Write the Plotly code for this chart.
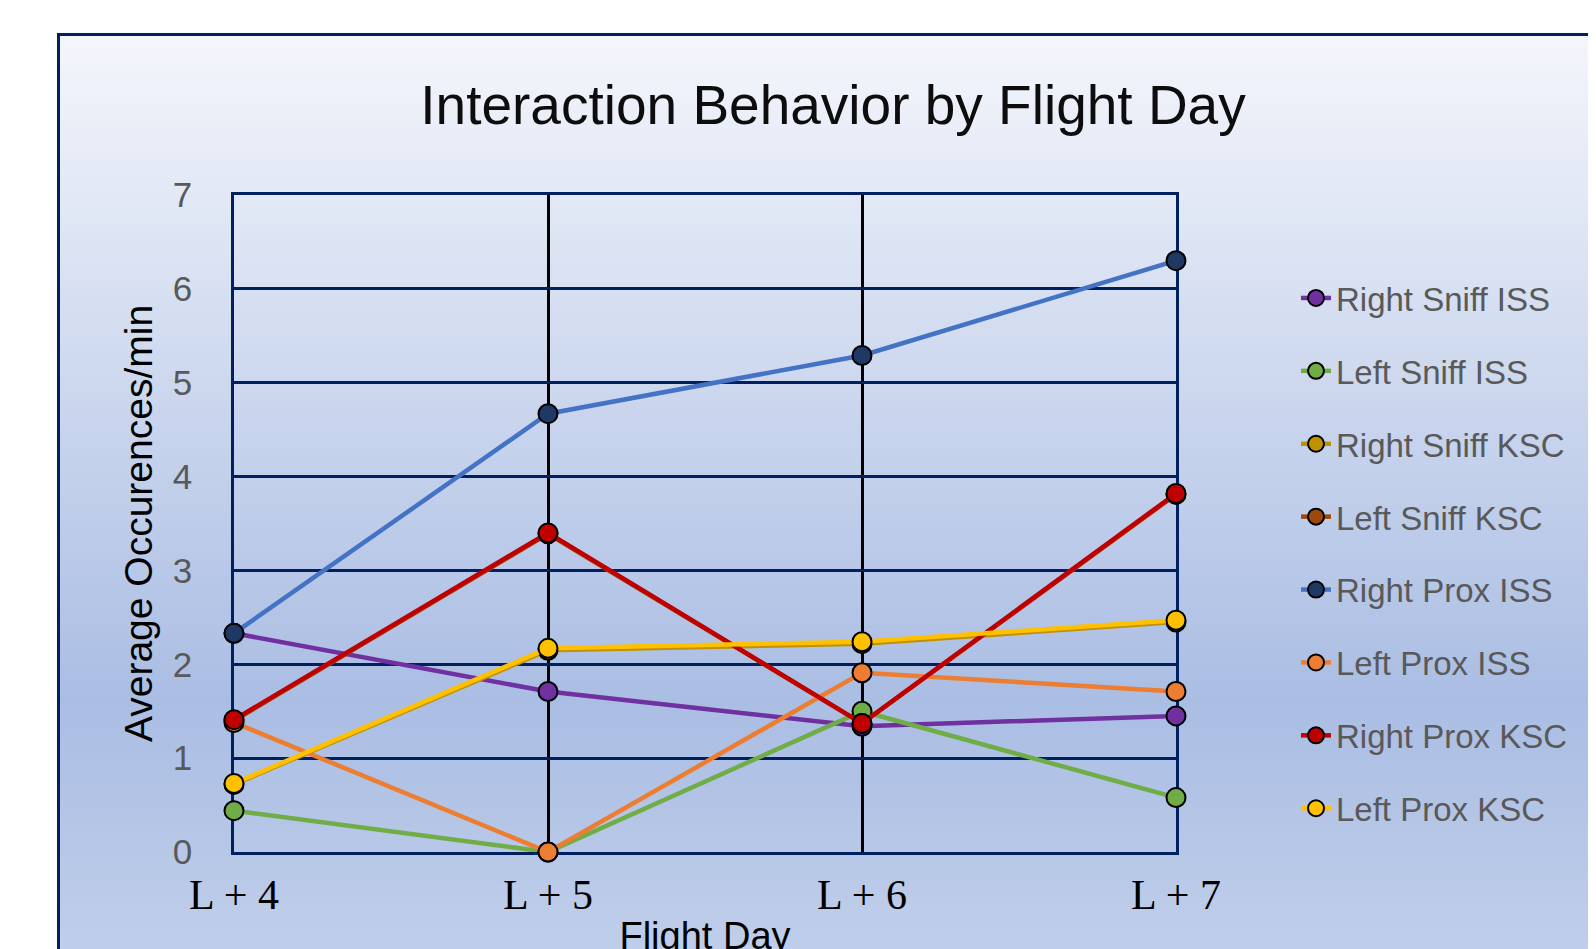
import plotly.graph_objects as go

# ---------------- data ----------------
categories = ["L + 4", "L + 5", "L + 6", "L + 7"]

right_sniff_iss = [2.33, 1.71, 1.34, 1.45]
left_sniff_iss = [0.44, 0.00, 1.50, 0.58]
right_sniff_ksc = [0.72, 2.15, 2.22, 2.45]
left_sniff_ksc = [1.40, 3.39, 1.37, 3.81]
right_prox_iss = [2.33, 4.67, 5.29, 6.30]
left_prox_iss = [1.38, 0.00, 1.91, 1.71]
right_prox_ksc = [1.41, 3.40, 1.37, 3.82]
left_prox_ksc = [0.73, 2.17, 2.24, 2.47]

series_names = ["Right Sniff ISS", "Left Sniff ISS", "Right Sniff KSC", "Left Sniff KSC",
                "Right Prox ISS", "Left Prox ISS", "Right Prox KSC", "Left Prox KSC"]
series_values = [right_sniff_iss, left_sniff_iss, right_sniff_ksc, left_sniff_ksc,
                 right_prox_iss, left_prox_iss, right_prox_ksc, left_prox_ksc]

y_ticks = [0, 1, 2, 3, 4, 5, 6, 7]

# ---------------- styles ----------------
line_colors = ["#7030A0", "#70AD47", "#BF9000", "#9E480E",
               "#4472C4", "#ED7D31", "#C00000", "#FFC000"]
marker_colors = ["#7030A0", "#70AD47", "#BF9000", "#9E480E",
                 "#1F3864", "#ED7D31", "#C00000", "#FFC000"]

W, H = 1596, 949
OFF = 8                            # page body margin in the browser
L, R, T, B = 234, 1176, 195, 852   # plot area in screen pixels
PW, PH = R - L, B - T

def px_x(p):
    return (p - L) / PW

def px_y(p):
    return (B - p) / PH

SANS = "Liberation Sans, Arial, sans-serif"
SERIF = "Liberation Serif, Times New Roman, serif"
NAVY = "#002060"

fig = go.Figure()
for i, (name, vals) in enumerate(zip(series_names, series_values)):
    fig.add_trace(go.Scatter(
        x=categories, y=vals, name=name, mode="lines+markers",
        legendgroup=name,
        line=dict(color=line_colors[i], width=4.5),
        marker=dict(size=19, color=marker_colors[i], line=dict(color="#000000", width=2)),
        cliponaxis=False,
    ))

# ---------------- background gradient ----------------
stops = [(34, (244, 246, 251)), (700, (170, 189, 227)), (960, (192, 207, 234))]

def grad_color(py):
    for (y0, c0), (y1, c1) in zip(stops[:-1], stops[1:]):
        if y0 <= py <= y1:
            t = (py - y0) / (y1 - y0)
            return "rgb(%d,%d,%d)" % tuple(round(a + (b - a) * t) for a, b in zip(c0, c1))
    return "rgb(%d,%d,%d)" % stops[-1][1]

shapes = []
step = 8
py = 34
while py < 960:
    py2 = min(py + step, 960)
    shapes.append(dict(type="rect", xref="paper", yref="paper",
                       x0=px_x(58), x1=px_x(1610), y0=px_y(py2 + 0.5), y1=px_y(py),
                       fillcolor=grad_color((py + py2) / 2), line=dict(width=0),
                       layer="below"))
    py = py2
# outer chart border
shapes.append(dict(type="rect", xref="paper", yref="paper",
                   x0=px_x(58.5), x1=px_x(1620), y0=px_y(980), y1=px_y(34.5),
                   line=dict(color=NAVY, width=3), fillcolor="rgba(0,0,0,0)",
                   layer="below"))

fig.update_layout(
    width=W, height=H,
    margin=dict(l=L - OFF, r=W - (R - OFF), t=T - OFF, b=H - (B - OFF), pad=0,
                autoexpand=False),
    paper_bgcolor="#ffffff",
    plot_bgcolor="rgba(0,0,0,0)",
    shapes=shapes,
    title=dict(text="Interaction Behavior by Flight Day",
               x=825 / W, xanchor="center", xref="container",
               y=1 - 97 / H, yanchor="middle", yref="container",
               font=dict(family=SANS, size=55, color="#0d0d0d")),
    xaxis=dict(
        type="category", range=[0, 3], automargin=False,
        showgrid=True, gridcolor="#000000", gridwidth=2.5,
        showline=True, linecolor=NAVY, linewidth=2.5, mirror=True,
        ticks="outside", ticklen=4, tickcolor="rgba(0,0,0,0)",
        tickfont=dict(family=SERIF, size=42, color="#000000"),
        title=dict(text="Flight Day", standoff=8,
                   font=dict(family=SANS, size=38, color="#000000")),
        layer="below traces", zeroline=False,
    ),
    yaxis=dict(
        range=[0, 7], tickvals=y_ticks, automargin=False,
        showgrid=True, gridcolor=NAVY, gridwidth=2.5,
        showline=True, linecolor=NAVY, linewidth=2.5, mirror=True,
        ticks="outside", ticklen=32, tickcolor="rgba(0,0,0,0)",
        tickfont=dict(family=SANS, size=35, color="#595959"),
        title=dict(text="Average Occurences/min", standoff=9,
                   font=dict(family=SANS, size=39, color="#000000")),
        layer="below traces", zeroline=False,
    ),
    legend=dict(
        x=px_x(1296), xanchor="left", y=px_y(270), yanchor="top",
        font=dict(family=SANS, size=33, color="#595959"),
        bgcolor="rgba(0,0,0,0)", tracegroupgap=27,
        itemsizing="trace",
    ),
    showlegend=True,
)

fig.write_html("out.html")
